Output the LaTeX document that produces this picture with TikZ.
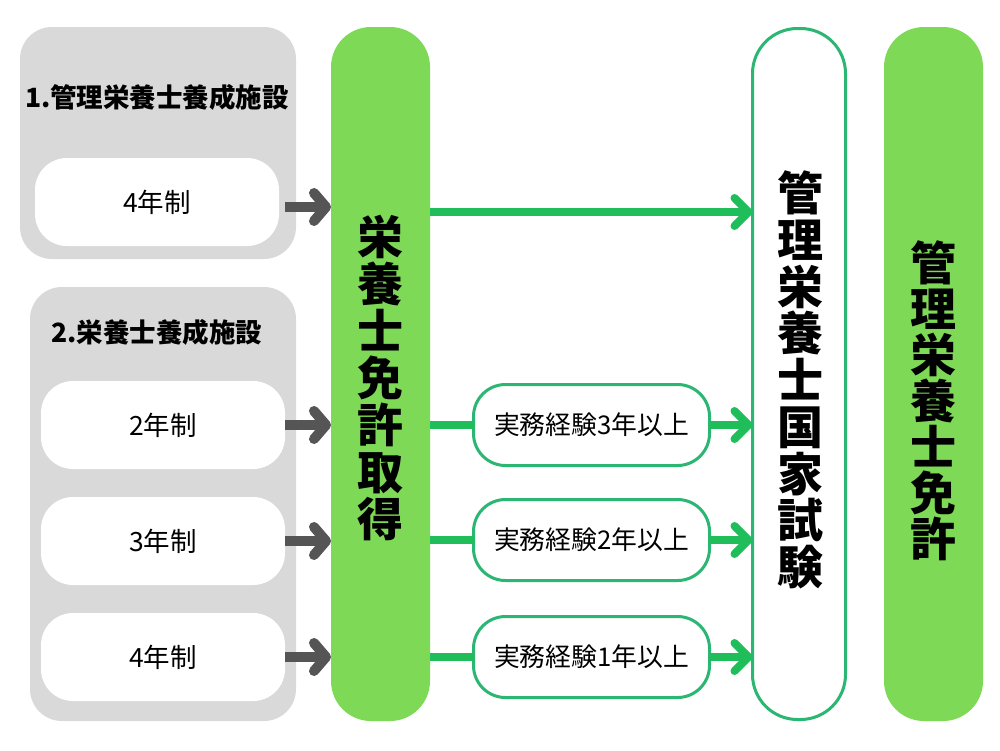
\documentclass[tikz,border=0pt]{standalone}
\usepackage{fontspec}
\setmainfont{Noto Sans CJK JP}
\usetikzlibrary{arrows.meta}
\definecolor{lgreen}{HTML}{7ED957}
\definecolor{agreen}{HTML}{1FBE5A}
\definecolor{bgreen}{HTML}{2BB673}
\definecolor{gbox}{HTML}{D9D9D9}
\definecolor{garrow}{HTML}{555555}
\lineskiplimit=-100pt
\begin{document}
\begin{tikzpicture}[x=1pt,y=-1pt,
  every node/.style={inner sep=0pt, outer sep=0pt},
  graybox/.style={rectangle, fill=gbox, rounded corners=32pt},
  whitebox/.style={rectangle, fill=white, rounded corners=32pt, minimum width=244pt, minimum height=88pt, font=\fontsize{26.5}{30}\selectfont},
  greenbar/.style={rectangle, fill=lgreen, rounded corners=40pt, minimum width=99pt, minimum height=694pt},
  exambox/.style={rectangle, draw=bgreen, line width=3pt, fill=white, rounded corners=45pt, minimum width=93pt, minimum height=691pt},
  expbox/.style={rectangle, draw=bgreen, line width=3pt, fill=white, rounded corners=32pt, minimum width=236pt, minimum height=81pt, font=\fontsize{25.8}{30}\selectfont},
  header/.style={font=\bfseries\fontsize{26.5}{30}\selectfont},
  vtext/.style={align=center, font=\bfseries\fontsize{46}{#1}\selectfont},
  grayarrow/.style={draw=garrow, line width=10pt, -{Straight Barb[length=12pt,width=28pt,round]}},
  greenarrow/.style={draw=agreen, line width=8pt, -{Straight Barb[length=14pt,width=28pt,round]}},
  greenline/.style={draw=agreen, line width=8pt}
]
\useasboundingbox (0,0) rectangle (1000,750);
\fill[white] (0,0) rectangle (1000,750);

% left groups
\node[graybox, minimum width=276pt, minimum height=232pt] (g1) at (158,143) {};
\node[graybox, minimum width=266pt, minimum height=434pt] (g2) at (163,504) {};
\node[header] (h1) at (157,97) {1.管理栄養士養成施設};
\node[header] (h2) at (157,332) {2.栄養士養成施設};
\node[whitebox] (w1) at (157,202) {4年制};
\node[whitebox] (w2) at (163,425) {2年制};
\node[whitebox] (w3) at (163,541) {3年制};
\node[whitebox] (w4) at (163,657) {4年制};

% bars
\node[greenbar] (b1) at (380.5,374) {};
\node[vtext=47pt] (t1) at (380.5,378) {栄\\養\\士\\免\\許\\取\\得};
\node[exambox] (ex) at (799,374) {};
\node[vtext=46.75pt] (t2) at (800,380) {管\\理\\栄\\養\\士\\国\\家\\試\\験};
\node[greenbar] (b2) at (933.5,374) {};
\node[vtext=46pt] (t3) at (933.5,401) {管\\理\\栄\\養\\士\\免\\許};

% experience boxes
\node[expbox] (e1) at (591.5,425) {実務経験3年以上};
\node[expbox] (e2) at (591.5,540) {実務経験2年以上};
\node[expbox] (e3) at (591.5,657) {実務経験1年以上};

% gray arrows
\draw[grayarrow] ([xshift=6pt,yshift=-5pt]w1.east) -- ([yshift=-5pt]w1.east -| b1.west);
\draw[grayarrow] (w2.east) -- (w2.east -| b1.west);
\draw[grayarrow] (w3.east) -- (w3.east -| b1.west);
\draw[grayarrow] (w4.east) -- (w4.east -| b1.west);

% green connectors
\draw[greenarrow] ([yshift=-10pt]b1.east |- w1.east) -- ([yshift=-10pt]ex.west |- w1.east);
\draw[greenline] (b1.east |- e1.west) -- (e1.west);
\draw[greenline] (b1.east |- e2.west) -- (e2.west);
\draw[greenline] (b1.east |- e3.west) -- (e3.west);
\draw[greenarrow] (e1.east) -- (e1.east -| ex.west);
\draw[greenarrow] (e2.east) -- (e2.east -| ex.west);
\draw[greenarrow] (e3.east) -- (e3.east -| ex.west);
\end{tikzpicture}
\end{document}
